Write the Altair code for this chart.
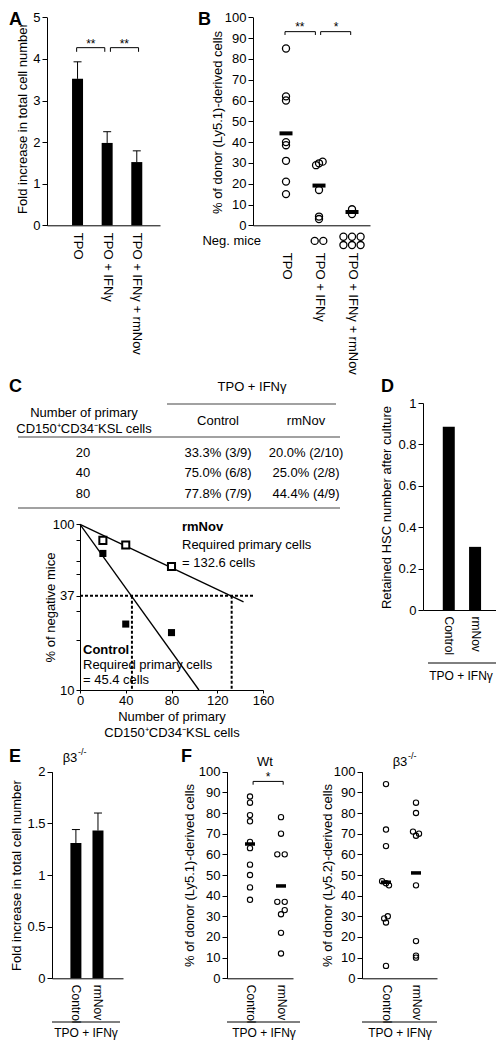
import json
import math
import altair as alt
import pandas as pd

# ======================= DATA =======================
# Panel A
A_CATS = ["TPO", "TPO + IFNγ", "TPO + IFNγ + rmNov"]
A_MEAN = [3.52, 1.98, 1.52]
A_ERR = [3.93, 2.25, 1.79]

# Panel B
B_TPO = [85, 62, 60, 40, 38.5, 31, 21, 15]
B_IFN = [30.6, 29.8, 28.9, 17, 4.2, 3.0]
B_IFN_JIT = [0.11, 0.0, -0.09, 0, 0, 0]
B_NOV = [7.7, 5.4]
B_MEANS = [44.2, 19.1, 6.4]
B_NEG_COUNTS = [0, 2, 6]

# Panel C table
C_HEADER = "TPO + IFNγ"
C_ROW_TITLE = ["Number of primary", "CD150⁺CD34⁻KSL cells"]
C_COLS = ["Control", "rmNov"]
C_CELLS = [20, 40, 80]
C_CONTROL_TXT = ["33.3% (3/9)", "75.0% (6/8)", "77.8% (7/9)"]
C_RMNOV_TXT = ["20.0% (2/10)", "25.0% (2/8)", "44.4% (4/9)"]
# Panel C plot
C_NEG_CONTROL = [66.7, 25.0, 22.2]
C_NEG_RMNOV = [80.0, 75.0, 55.6]
C_FIT_CONTROL_X = [0, 104]
C_FIT_CONTROL_Y = [100, 10]
C_FIT_RMNOV_X = [0, 143]
C_FIT_RMNOV_Y = [100, 34]
C_REQUIRED = [45.4, 132.6]
C_Y_TICKS = [100, 80, 60, 50, 37, 30, 20, 10]
C_Y_LABELED = [100, 37, 10]
C_X_TICKS = [0, 40, 80, 120, 160]

# Panel D
D_CATS = ["Control", "rmNov"]
D_VALUES = [0.885, 0.305]
D_TICKS = [0, 0.2, 0.4, 0.6, 0.8, 1]

# Panel E
E_MEAN = [1.31, 1.43]
E_ERR = [1.44, 1.60]
E_TICKS = [0, 0.5, 1, 1.5, 2]

# Panel F
F_WT_CONTROL = [88, 85, 79, 76, 66, 63, 55, 50, 44, 38]
F_WT_RMNOV = [78, 70, 60, 60, 37, 37, 33, 31, 22, 12]
F_WT_RMNOV_JIT = [0, 0, -0.12, 0.12, -0.12, 0.12, 0.12, 0, 0, 0]
F_WT_MEANS = [65, 44.7]
F_B3_CONTROL = [94, 72, 64, 47, 46, 45, 30, 29, 27, 6]
F_B3_CONTROL_JIT = [0, 0, 0, -0.13, 0, 0.1, 0.06, -0.06, 0, 0]
F_B3_RMNOV = [85, 80, 71, 70, 69, 45, 18, 11, 10]
F_B3_RMNOV_JIT = [0, 0, -0.1, 0.1, 0, 0, 0, 0, 0]
F_B3_MEANS = [46.5, 51]
PCT_TICKS = list(range(0, 101, 10))

# ======================= LAYOUT =======================
W, H = 488, 1034
FONT = "Liberation Sans"
ONE = pd.DataFrame({"k": [0]})


def X(p):
    return p - 8


def Y(p):
    return p - 8


def sc(dom, rng, type_="linear"):
    if type_ == "log":
        return alt.Scale(type="log", domain=dom, range=[Y(rng[0]), Y(rng[1])], nice=False)
    return alt.Scale(domain=dom, range=[rng[0] - 8, rng[1] - 8], nice=False, zero=False)


def left_axis(at, values, title, tx, ty, expr="datum.value + ''", tick=5):
    return alt.Axis(orient="left", offset=-X(at), values=values, title=title,
                    titleX=tx - at, titleY=Y(ty), titleAngle=270, titleAlign="center",
                    titleBaseline="middle", tickSize=tick, labelPadding=2,
                    labelFontSize=13, titleFontSize=13, labelOverlap=False,
                    labelFlush=False, labelExpr=expr)


def cat_axis(at, cats, pad, size=13):
    expr = json.dumps(cats, ensure_ascii=False) + "[datum.value]"
    return alt.Axis(orient="bottom", offset=Y(at) - H, values=list(range(len(cats))),
                    labelExpr=expr, labelAngle=90, labelAlign="left",
                    labelBaseline="middle", ticks=False, labelPadding=pad,
                    labelFontSize=size, labelOverlap=False, labelFlush=False, title=None)


def enc_pair(sx, ax, sy, ay):
    fx = lambda f: alt.X(f, type="quantitative", scale=sx, axis=ax)
    fy = lambda f: alt.Y(f, type="quantitative", scale=sy, axis=ay)
    return fx, fy


def txt(s, x, y, size=13, weight="normal", align="center", baseline="middle"):
    return alt.Chart(ONE).mark_text(text=s, font=FONT, fontSize=size, fontWeight=weight,
                                    align=align, baseline=baseline, color="black").encode(
        x=alt.value(X(x)), y=alt.value(Y(y)))


def hline(x1, x2, y, color="black", width=1.0):
    return alt.Chart(ONE).mark_rule(color=color, strokeWidth=width).encode(
        x=alt.value(X(x1)), x2=alt.value(X(x2)), y=alt.value(Y(y)))


def bracket_df(specs, drop):
    rows = []
    for x1, x2, y in specs:
        rows += [dict(x=x1, x2=x2, y=y, y2=y), dict(x=x1, x2=x1, y=y, y2=y - drop),
                 dict(x=x2, x2=x2, y=y, y2=y - drop)]
    return pd.DataFrame(rows)


def bar_panel(cats, means, errs, fx, fy, width, cap):
    df = pd.DataFrame({"idx": list(range(len(cats))), "m": means})
    if errs is not None:
        df["e"] = errs
    bars = alt.Chart(df).mark_bar(size=width, color="black", orient="vertical", opacity=1).encode(
        x=fx("idx"), y=fy("m"), y2=alt.datum(0))
    layers = [bars]
    if errs is not None:
        layers.append(alt.Chart(df).mark_rule(color="black", strokeWidth=1).encode(
            x=fx("idx"), y=fy("m"), y2=alt.Y2("e")))
        layers.append(alt.Chart(df).mark_tick(orient="horizontal", size=cap, thickness=1,
                                              color="black", opacity=1).encode(
            x=fx("idx"), y=fy("e")))
    return layers


def dots(df, fx, fy, size, sw):
    return alt.Chart(df).mark_point(shape="circle", filled=False, size=size, color="black",
                                    strokeWidth=sw, opacity=1).encode(x=fx("x"), y=fy("v"))


def means(vals, fx, fy, length, thick):
    df = pd.DataFrame({"x": list(range(len(vals))), "v": vals})
    return alt.Chart(df).mark_tick(orient="horizontal", size=length, thickness=thick,
                                   color="black", opacity=1).encode(x=fx("x"), y=fy("v"))


def brackets(specs, drop, stars, fx, fy):
    r = alt.Chart(bracket_df(specs, drop)).mark_rule(color="black", strokeWidth=1).encode(
        x=fx("x"), x2=alt.X2("x2"), y=fy("y"), y2=alt.Y2("y2"))
    s = alt.Chart(pd.DataFrame(stars, columns=["x", "y", "t"])).mark_text(
        font=FONT, fontSize=12, color="black", baseline="middle").encode(
        x=fx("x"), y=fy("y"), text="t:N")
    return [r, s]


# ----------------------- Panel A -----------------------
fxA, fyA = enc_pair(sc([-0.862, 2.615], [47, 160]), cat_axis(225.3, A_CATS, 7),
                    sc([0, 5], [225.3, 17.3]),
                    left_axis(47, [0, 1, 2, 3, 4, 5], "Fold increase in total cell number", 22, 118))
panelA = alt.layer(*bar_panel(A_CATS, A_MEAN, A_ERR, fxA, fyA, 11, 8),
                   *brackets([(-0.03, 0.92, 4.27), (1.11, 2.06, 4.27)], 0.1,
                             [(0.45, 4.36, "**"), (1.58, 4.36, "**")], fxA, fyA))

# ----------------------- Panel B -----------------------
fxB, fyB = enc_pair(sc([-1.0, 2.545], [253, 370]), cat_axis(225.3, A_CATS, 27),
                    sc([0, 100], [225.3, 17.3]),
                    left_axis(253, PCT_TICKS, "% of donor (Ly5.1)-derived cells", 217, 122))
rowsB = [(0, v) for v in B_TPO] + [(1 + j, v) for v, j in zip(B_IFN, B_IFN_JIT)] + \
        [(2, v) for v in B_NOV]
# negative mice drawn in a row below the axis (value band below zero)
for gi, n in enumerate(B_NEG_COUNTS):
    if n == 0:
        continue
    per = 3 if n > 3 else n
    nrows = math.ceil(n / per)
    for k in range(n):
        r, c = divmod(k, per)
        rowsB.append((gi + (c - (per - 1) / 2) * 0.26, -7.5 + (nrows - 1) * 2.0 - r * 4.0))
dfB = pd.DataFrame(rowsB, columns=["x", "v"])
panelB = alt.layer(dots(dfB, fxB, fyB, 50, 1.3), means(B_MEANS, fxB, fyB, 13, 4),
                   *brackets([(-0.03, 0.89, 93.1), (1.05, 1.96, 93.1)], 1.6,
                             [(0.42, 95.2, "**"), (1.52, 95.2, "*")], fxB, fyB))

# ----------------------- Panel C (table) -----------------------
table = [txt(C_HEADER, 252, 387), hline(167, 336, 404, "#444", 1.2),
         txt(C_ROW_TITLE[0], 84, 413), txt(C_ROW_TITLE[1], 84, 429),
         txt(C_COLS[0], 218, 421), txt(C_COLS[1], 306, 421),
         hline(18, 340, 437, "#444", 1.2), hline(18, 340, 508, "#444", 1.2)]
for i, yy in enumerate([453, 473, 494]):
    table += [txt(str(C_CELLS[i]), 83, yy), txt(C_CONTROL_TXT[i], 218, yy),
              txt(C_RMNOV_TXT[i], 306, yy)]

# ----------------------- Panel C (plot) -----------------------
axCx = alt.Axis(orient="bottom", offset=Y(690) - H, values=C_X_TICKS, labelAngle=0,
                tickSize=3, labelPadding=1, labelFontSize=13, title=C_ROW_TITLE,
                titleFontSize=13, titlePadding=3, titleLineHeight=16, labelFlush=False,
                labelOverlap=False)
lab_expr = " || ".join(f"datum.value == {v}" for v in C_Y_LABELED)
axCy = left_axis(80, C_Y_TICKS, "% of negative mice", 50, 607,
                 expr=f"({lab_expr}) ? datum.value + '' : ''", tick=4)
fxC, fyC = enc_pair(sc([0, 160], [80, 263]), axCx, sc([10, 100], [690, 524.3], "log"), axCy)
dfC = pd.DataFrame({"x": C_CELLS * 2, "v": C_NEG_CONTROL + C_NEG_RMNOV,
                    "g": ["Control"] * 3 + ["rmNov"] * 3})
dfFit = pd.DataFrame({"x": C_FIT_CONTROL_X + C_FIT_RMNOV_X, "v": C_FIT_CONTROL_Y + C_FIT_RMNOV_Y,
                      "g": ["Control"] * 2 + ["rmNov"] * 2})
dfDash = pd.DataFrame({"x": [0, C_REQUIRED[0], C_REQUIRED[1]], "x2": [153, C_REQUIRED[0], C_REQUIRED[1]],
                       "y": [37, 37, 37], "y2": [37, 10, 10]})
panelC = alt.layer(
    alt.Chart(dfDash).mark_rule(color="black", strokeWidth=2, strokeDash=[3, 2]).encode(
        x=fxC("x"), x2=alt.X2("x2"), y=fyC("y"), y2=alt.Y2("y2")),
    alt.Chart(dfFit).mark_line(color="black", strokeWidth=1.3).encode(
        x=fxC("x"), y=fyC("v"), detail="g:N"),
    alt.Chart(dfC[dfC.g == "Control"]).mark_point(shape="square", filled=True, size=50,
                                                  color="black", opacity=1).encode(
        x=fxC("x"), y=fyC("v")),
    alt.Chart(dfC[dfC.g == "rmNov"]).mark_point(shape="square", filled=True, size=50,
                                                color="white", opacity=1, stroke="black",
                                                strokeWidth=2).encode(x=fxC("x"), y=fyC("v")),
)
c_notes = [txt("rmNov", 182, 527, weight="bold", align="left"),
           txt("Required primary cells", 182, 545, align="left"),
           txt(f"= {C_REQUIRED[1]} cells", 182, 563, align="left"),
           txt("Control", 83, 650, weight="bold", align="left"),
           txt("Required primary cells", 83, 665, align="left"),
           txt(f"= {C_REQUIRED[0]} cells", 83, 680, align="left")]

# ----------------------- Panel D -----------------------
fxD, fyD = enc_pair(sc([-0.79, 1.91], [423, 504]), cat_axis(610, D_CATS, 6, 12),
                    sc([0, 1], [610, 403]),
                    left_axis(423, D_TICKS, "Retained HSC number after culture", 386.5, 507))
panelD = alt.layer(*bar_panel(D_CATS, D_VALUES, None, fxD, fyD, 12, 8))

# ----------------------- Panel E -----------------------
fxE, fyE = enc_pair(sc([-0.856, 1.907], [52, 123]), cat_axis(978.3, D_CATS, 6, 12),
                    sc([0, 2], [978.3, 771.7]),
                    left_axis(52, E_TICKS, "Fold increase in total cell number", 16, 875))
panelE = alt.layer(*bar_panel(D_CATS, E_MEAN, E_ERR, fxE, fyE, 11, 8))

# ----------------------- Panel F (Wt) -----------------------
fxW, fyW = enc_pair(sc([-0.742, 1.387], [227, 293]), cat_axis(978.3, D_CATS, 6, 12),
                    sc([0, 100], [978.3, 771.7]),
                    left_axis(227, PCT_TICKS, "% of donor (Ly5.1)-derived cells", 189, 875))
dfW = pd.DataFrame([(0, v) for v in F_WT_CONTROL] +
                   [(1 + j, v) for v, j in zip(F_WT_RMNOV, F_WT_RMNOV_JIT)], columns=["x", "v"])
panelW = alt.layer(dots(dfW, fxW, fyW, 28, 1.1), means(F_WT_MEANS, fxW, fyW, 10, 3.5),
                   *brackets([(0.1, 1.07, 95.3)], 1.6, [(0.58, 97.6, "*")], fxW, fyW))

# ----------------------- Panel F (beta3) -----------------------
fxK, fyK = enc_pair(sc([-0.8, 1.7], [362, 437]), cat_axis(978.3, D_CATS, 6, 12),
                    sc([0, 100], [978.3, 771.7]),
                    left_axis(362, PCT_TICKS, "% of donor (Ly5.2)-derived cells", 327, 875))
dfK = pd.DataFrame([(j, v) for v, j in zip(F_B3_CONTROL, F_B3_CONTROL_JIT)] +
                   [(1 + j, v) for v, j in zip(F_B3_RMNOV, F_B3_RMNOV_JIT)], columns=["x", "v"])
panelK = alt.layer(dots(dfK, fxK, fyK, 28, 1.1), means(F_B3_MEANS, fxK, fyK, 10, 3.5))

# ----------------------- annotations -----------------------
BOT_LINE, BOT_TXT = 1022, 1033
notes = [
    txt("A", 9, 11, 18, "bold", align="left", baseline="top"),
    txt("B", 198, 11, 18, "bold", align="left", baseline="top"),
    txt("C", 9, 387, 18, "bold", align="left"),
    txt("D", 381, 387, 18, "bold", align="left"),
    txt("E", 9, 757, 18, "bold", align="left"),
    txt("F", 181, 757, 18, "bold", align="left"),
    txt("Neg. mice", 261, 241, align="right"),
    hline(428, 496, 663), txt("TPO + IFNγ", 461, 676, 12),
    txt("β3", 70, 758), txt("-/-", 78, 752, 9, align="left"),
    hline(52, 120, BOT_LINE), txt("TPO + IFNγ", 86, BOT_TXT, 12),
    txt("Wt", 265, 762),
    hline(227, 300, BOT_LINE), txt("TPO + IFNγ", 264, BOT_TXT, 12),
    txt("β3", 400, 762), txt("-/-", 408, 756, 9, align="left"),
    hline(362, 437, BOT_LINE), txt("TPO + IFNγ", 400, BOT_TXT, 12),
]

chart = alt.layer(panelA, panelB, panelC, panelD, panelE, panelW, panelK,
                  *table, *c_notes, *notes).resolve_scale(
    x="independent", y="independent").properties(
    width=W, height=H, padding=0, autosize=alt.AutoSizeParams(type="none"),
    background="white").configure_axis(
    domainColor="black", tickColor="black", labelColor="black", titleColor="black",
    labelFont=FONT, titleFont=FONT, grid=False, domainWidth=1, tickWidth=1,
    titleFontWeight="normal").configure_view(stroke=None)

chart.save("out.html", embed_options={"renderer": "svg", "actions": False})
